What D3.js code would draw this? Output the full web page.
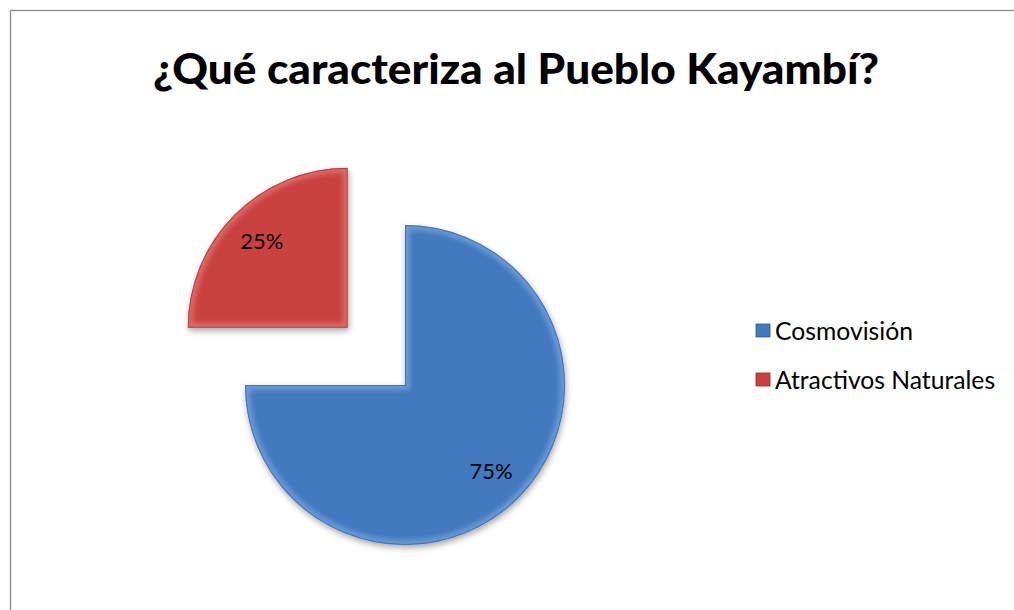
<!DOCTYPE html>
<html><head><meta charset="utf-8">
<script src="https://cdn.jsdelivr.net/npm/d3@7"></script>
<style>body{margin:0;background:#fff}svg{display:block}</style>
</head><body>
<svg id="c" width="1014" height="610"></svg>
<script>
const title = "¿Qué caracteriza al Pueblo Kayambí?";
const categories = ["Cosmovisión", "Atractivos Naturales"];
const values = [75, 25];
const labels = ["75%", "25%"];
const colors = ["#4279bf", "#c9423f"];
const lightColors = ["#8cb6ea", "#ee8a86"];
const darkColors = ["#2c5a94", "#8f2a28"];

const svg = d3.select("#c");
const defs = svg.append("defs");
const f = defs.append("filter").attr("id","sh").attr("x","-20%").attr("y","-20%").attr("width","140%").attr("height","140%");
f.append("feDropShadow").attr("dx",1).attr("dy",3).attr("stdDeviation",3).attr("flood-color","#000").attr("flood-opacity",0.35);
const blur = defs.append("filter").attr("id","bl");
blur.append("feGaussianBlur").attr("stdDeviation",2.5);

// frame
svg.append("rect").attr("x",10.5).attr("y",10.5).attr("width",1100).attr("height",700)
  .attr("fill","#fff").attr("stroke","#8c8c8c").attr("stroke-width",1.3);

// title
const t = svg.append("text").attr("x",516).attr("y",84).attr("text-anchor","middle")
  .attr("font-family","Lato, 'Open Sans', sans-serif").attr("font-weight","900")
  .attr("font-size",42).attr("fill","#000").text(title);
t.attr("textLength",726).attr("lengthAdjust","spacingAndGlyphs");

// pie
const cx = 405, cy = 385, r = 160, explode = 81;
const pie = d3.pie().sort(null).value(d=>d)(values);
const arc = d3.arc().innerRadius(0).outerRadius(r);
const g = svg.append("g").attr("transform",`translate(${cx},${cy})`);
const slices = g.selectAll("g.s").data(pie).join("g").attr("class","s")
  .attr("transform",(d,i)=>{
    if(i===1){const a=(d.startAngle+d.endAngle)/2;return `translate(${Math.sin(a)*explode},${-Math.cos(a)*explode})`;}
    return null;});
slices.each(function(d,i){
  const s = d3.select(this);
  const cid = "clip"+i;
  defs.append("clipPath").attr("id",cid).append("path").attr("d",arc(d));
  s.append("path").attr("d",arc(d)).attr("fill",colors[i]).attr("filter","url(#sh)");
  const cg = s.append("g").attr("clip-path",`url(#${cid})`);
  cg.append("path").attr("d",arc(d)).attr("fill","none").attr("stroke",lightColors[i])
    .attr("stroke-width",10).attr("opacity",0.55).attr("filter","url(#bl)");
  cg.append("path").attr("d",arc(d)).attr("fill","none").attr("stroke",darkColors[i])
    .attr("stroke-width",2).attr("opacity",0.6);
});
// labels
slices.append("text")
  .attr("x",(d,i)=>{const a=(d.startAngle+d.endAngle)/2;return Math.sin(a)*r*0.76;})
  .attr("y",(d,i)=>{const a=(d.startAngle+d.endAngle)/2;return -Math.cos(a)*r*0.76;})
  .attr("dy","0.35em").attr("text-anchor","middle")
  .attr("font-family","Lato, 'Open Sans', sans-serif").attr("font-size",22).attr("fill","#000")
  .text((d,i)=>labels[i]);

// legend
const leg = svg.append("g").attr("transform","translate(756,322)");
const li = leg.selectAll("g").data(categories).join("g").attr("transform",(d,i)=>`translate(0,${i*49})`);
li.append("rect").attr("x",0).attr("y",2).attr("width",14).attr("height",13)
  .attr("fill",(d,i)=>colors[i]).attr("stroke",(d,i)=>darkColors[i]).attr("stroke-width",0.8);
li.append("text").attr("x",19).attr("y",17.5).attr("font-family","Lato, 'Open Sans', sans-serif")
  .attr("font-size",24.7).attr("fill","#000").text(d=>d);
</script>
</body></html>
